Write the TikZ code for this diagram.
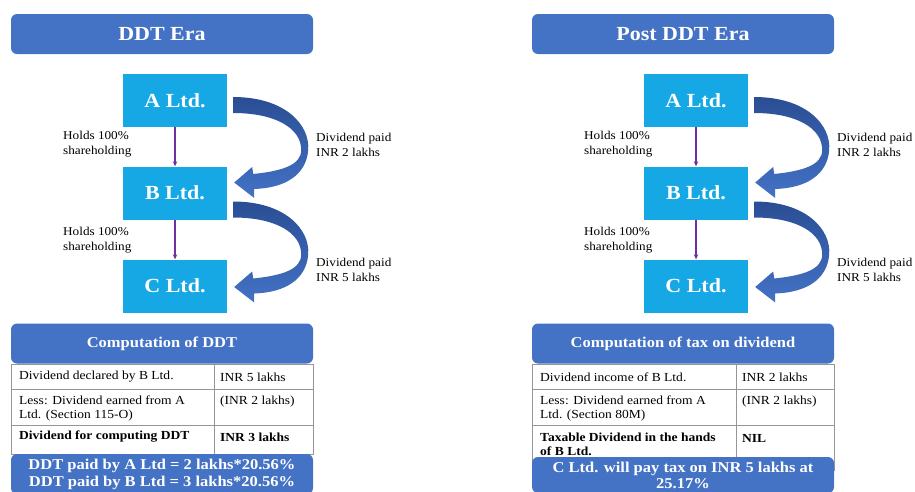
\documentclass[tikz,border=0pt]{standalone}
\usepackage{fontspec}
\setmainfont{Liberation Serif}[FakeStretch=1.1]
\usetikzlibrary{arrows.meta,calc}
\definecolor{hdr}{RGB}{68,114,196}
\definecolor{cobox}{RGB}{22,168,228}
\definecolor{arrdark}{RGB}{42,78,148}
\definecolor{arrlight}{RGB}{68,114,198}
\definecolor{own}{RGB}{112,48,160}
\definecolor{gridc}{RGB}{150,150,150}
\tikzset{
  hdrbox/.style={fill=hdr, rounded corners=6pt, text=white, inner sep=0pt},
  cobox/.style={fill=cobox, minimum width=104pt, minimum height=53pt, text=white, inner sep=0pt,
    font=\bfseries\fontsize{20}{24}\selectfont},
  lbl/.style={align=left, anchor=west, inner sep=0pt, font=\fontsize{12}{15}\selectfont},
  cell/.style={align=left, anchor=west, inner sep=0pt, font=\fontsize{12.3}{13.5}\selectfont},
  bcell/.style={cell, font=\bfseries\fontsize{12.3}{13.5}\selectfont},
  ownarrow/.style={draw=own, line width=1.2pt, -{Stealth[length=5pt,width=4.5pt]}},
  divarrow/.pic={
    \path[top color=arrdark, bottom color=arrlight]
      (6,-3.5) .. controls (58,-3.5) and (83,24.5) .. (81,49.5)
      .. controls (79,74.5) and (58,87.5) .. (27,88.5)
      -- (27,97.5) -- (7,82) -- (25,66.5) -- (26,73.5)
      .. controls (55,70.5) and (74,64.5) .. (74,49.5)
      .. controls (74,27.5) and (48,12.5) .. (6,12.5) -- cycle;
  }
}
\begin{document}
\begin{tikzpicture}[x=1pt,y=-1pt]
\path[use as bounding box] (0,0) rectangle (915,491);
\clip (0,0) rectangle (915,491);

% ---------- Left: DDT Era ----------
\node[hdrbox, minimum width=302pt, minimum height=40pt, font=\bfseries\fontsize{20}{24}\selectfont] (h1) at (162,34) {DDT Era};
\node[cobox] (A1) at (175,100.5) {A Ltd.};
\node[cobox] (B1) at (175,193) {B Ltd.};
\node[cobox] (C1) at (175,286) {C Ltd.};
\draw[ownarrow] (A1.south) -- (B1.north);
\draw[ownarrow] (B1.south) -- (C1.north);
\pic at (A1.east) {divarrow};
\pic at ($(B1.east)+(0,12)$) {divarrow};
\node[lbl] (hl1) at (63,144.5) {Holds 100\%\\shareholding};
\node[lbl] (hl2) at (63,240) {Holds 100\%\\shareholding};
\node[lbl] (dl1) at (316,144.5) {Dividend paid\\INR 2 lakhs};
\node[lbl] (dl2) at (316,270) {Dividend paid\\INR 5 lakhs};

\node[hdrbox, minimum width=302pt, minimum height=40pt, font=\bfseries\fontsize{15}{18}\selectfont] (t1) at (162,343.5) {Computation of DDT};
\draw[gridc, line width=0.8pt, fill=white] (11,364) rectangle (313,454);
\draw[gridc, line width=0.8pt] (11,389) -- (313,389) (11,425) -- (313,425) (214,364) -- (214,454);
\node[cell] (r11) at (19,377) {Dividend declared by B Ltd.};
\node[cell] (r12) at (220,377) {INR 5 lakhs};
\node[cell] (r21) at (19,408.5) {Less: Dividend earned from A\\Ltd. (Section 115-O)};
\node[cell] (r22) at (220,402) {(INR 2 lakhs)};
\node[bcell] (r31) at (19,437) {Dividend for computing DDT};
\node[bcell] (r32) at (220,437) {INR 3 lakhs};
\node[hdrbox, minimum width=302pt, minimum height=40pt, align=center, font=\bfseries\fontsize{15}{17}\selectfont] (f1) at (162,474) {DDT paid by A Ltd = 2 lakhs*20.56\%\\DDT paid by B Ltd = 3 lakhs*20.56\%};

% ---------- Right: Post DDT Era ----------
\node[hdrbox, minimum width=302pt, minimum height=40pt, font=\bfseries\fontsize{20}{24}\selectfont] (h2) at (683,34) {Post DDT Era};
\node[cobox] (A2) at (696,100.5) {A Ltd.};
\node[cobox] (B2) at (696,193) {B Ltd.};
\node[cobox] (C2) at (696,286) {C Ltd.};
\draw[ownarrow] (A2.south) -- (B2.north);
\draw[ownarrow] (B2.south) -- (C2.north);
\pic at (A2.east) {divarrow};
\pic at ($(B2.east)+(0,12)$) {divarrow};
\node[lbl] (hl3) at (584,144.5) {Holds 100\%\\shareholding};
\node[lbl] (hl4) at (584,240) {Holds 100\%\\shareholding};
\node[lbl] (dl3) at (837,144.5) {Dividend paid\\INR 2 lakhs};
\node[lbl] (dl4) at (837,270) {Dividend paid\\INR 5 lakhs};

\node[hdrbox, minimum width=302pt, minimum height=40pt, font=\bfseries\fontsize{15}{18}\selectfont] (t2) at (683,343.5) {Computation of tax on dividend};
\draw[gridc, line width=0.8pt, fill=white] (532,364) rectangle (834,470);
\draw[gridc, line width=0.8pt] (532,389) -- (834,389) (532,425) -- (834,425) (736,364) -- (736,470);
\node[cell] (s11) at (540,377) {Dividend income of B Ltd.};
\node[cell] (s12) at (742,377) {INR 2 lakhs};
\node[cell] (s21) at (540,408.5) {Less: Dividend earned from A\\Ltd. (Section 80M)};
\node[cell] (s22) at (742,402) {(INR 2 lakhs)};
\node[bcell] (s31) at (540,444.5) {Taxable Dividend in the hands\\of B Ltd.};
\node[bcell] (s32) at (742,438) {NIL};
\node[hdrbox, minimum width=302pt, minimum height=36pt, align=center, font=\bfseries\fontsize{15}{16}\selectfont] (f2) at (683,475) {C Ltd. will pay tax on INR 5 lakhs at\\25.17\%};
\end{tikzpicture}
\end{document}
